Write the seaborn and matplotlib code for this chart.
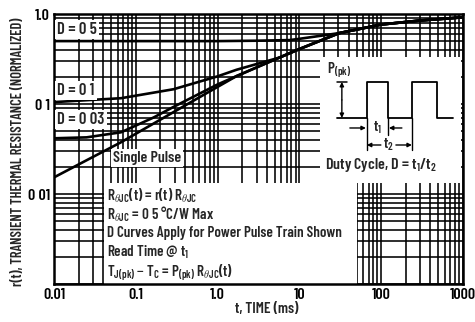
import numpy as np
import pandas as pd
import matplotlib
matplotlib.use("Agg")
import matplotlib.pyplot as plt
from matplotlib.patches import Rectangle
from matplotlib.ticker import LogLocator, FixedLocator, FixedFormatter, NullFormatter
import seaborn as sns

# Normalized transient thermal resistance r(t) versus pulse width t (ms)
t_d05 = [0.01, 0.1, 1.0, 3.0, 7.6, 10, 20, 30.8, 100, 300, 1000]
r_d05 = [0.50, 0.50, 0.50, 0.505, 0.513, 0.53, 0.58, 0.614, 0.764, 0.847, 0.919]

t_d01 = [0.01, 0.066, 0.29, 1.0, 1.7, 5.7, 10, 30.8, 100, 300, 1000]
r_d01 = [0.105, 0.116, 0.146, 0.203, 0.24, 0.328, 0.408, 0.614, 0.764, 0.847, 0.919]

t_d003 = [0.01, 0.025, 0.066, 0.166, 0.29, 1.0, 1.7, 5.7, 10, 30.8, 100, 300, 1000]
r_d003 = [0.0416, 0.0426, 0.0485, 0.071, 0.093, 0.165, 0.204, 0.328, 0.408, 0.614, 0.764, 0.847, 0.919]

t_single = [0.01, 0.025, 0.066, 0.26, 1.0, 1.7, 5.7, 10, 30.8, 100, 300, 1000]
r_single = [0.0153, 0.0237, 0.0376, 0.0769, 0.155, 0.204, 0.328, 0.408, 0.614, 0.764, 0.847, 0.919]

x_ticks = [0.01, 0.1, 1.0, 10, 100, 1000]
x_tick_labels = ["0.01", "0.1", "1.0", "10", "100", "1000"]
y_ticks = [0.01, 0.1, 1.0]
y_tick_labels = ["0 01", "0 1", "1.0"]

curves = pd.concat([
    pd.DataFrame({"t": t_d05, "r": r_d05, "curve": "D = 0 5"}),
    pd.DataFrame({"t": t_d01, "r": r_d01, "curve": "D = 0 1"}),
    pd.DataFrame({"t": t_d003, "r": r_d003, "curve": "D = 0 03"}),
    pd.DataFrame({"t": t_single, "r": r_single, "curve": "Single Pulse"}),
], ignore_index=True)

sns.set_theme(style="white")
cond = ["Barlow Condensed", "Archivo Narrow", "DejaVu Sans"]
plt.rcParams["font.family"] = cond
plt.rcParams["font.weight"] = 600
plt.rcParams["mathtext.fontset"] = "custom"
plt.rcParams["mathtext.rm"] = "Barlow Condensed:weight=600"
plt.rcParams["mathtext.it"] = "Barlow Condensed:weight=600"
plt.rcParams["mathtext.bf"] = "Barlow Condensed:weight=700"

fig = plt.figure(figsize=(4.75, 3.22), dpi=100)
ax = fig.add_axes([0.1137, 0.118, 0.861, 0.8385])

sns.lineplot(data=curves, x="t", y="r", units="curve", estimator=None,
             color="black", lw=1.9, ax=ax, zorder=2)

ax.set_xscale("log")
ax.set_yscale("log")
ax.set_xlim(0.01, 1000)
ax.set_ylim(0.001, 1.0)

ax.xaxis.set_major_locator(FixedLocator(x_ticks))
ax.xaxis.set_major_formatter(FixedFormatter(x_tick_labels))
ax.yaxis.set_major_locator(FixedLocator(y_ticks + [0.001]))
ax.yaxis.set_major_formatter(FixedFormatter(y_tick_labels + [""]))
for axis in (ax.xaxis, ax.yaxis):
    axis.set_minor_locator(LogLocator(base=10, subs=np.arange(2, 10), numticks=30))
    axis.set_minor_formatter(NullFormatter())

ax.set_axisbelow(True)
ax.grid(which="both", color="black", lw=1.15)
ax.tick_params(which="both", length=0, labelsize=11.5, colors="black")
ax.tick_params(axis="x", pad=3)
ax.tick_params(axis="y", pad=3)
for lab in ax.get_xticklabels() + ax.get_yticklabels():
    lab.set_fontweight(600)
for sp in ax.spines.values():
    sp.set_color("black")
    sp.set_linewidth(1.8)
ax.set_xlabel("")
ax.set_ylabel("")

# white panels for notes and the pulse-train sketch
ax.add_patch(Rectangle((0.122, 0.0), 0.619, 0.374, transform=ax.transAxes,
                       facecolor="white", edgecolor="none", zorder=1))
ax.add_patch(Rectangle((0.650, 0.374), 0.345, 0.467, transform=ax.transAxes,
                       facecolor="white", edgecolor="none", zorder=1))

box = dict(facecolor="white", edgecolor="none", pad=1.5)
ax.text(0.008, 0.944, "D = 0 5", transform=ax.transAxes, fontsize=12,
        ha="left", va="center", bbox=box, zorder=3)
ax.text(0.008, 0.715, "D = 0 1", transform=ax.transAxes, fontsize=12,
        ha="left", va="center", bbox=box, zorder=3)
ax.text(0.008, 0.611, "D = 0 03", transform=ax.transAxes, fontsize=12,
        ha="left", va="center", bbox=box, zorder=3)
ax.text(0.144, 0.467, "Single Pulse", transform=ax.transAxes, fontsize=11.5,
        ha="left", va="center", bbox=box, zorder=3)

notes = [
    (0.310, r"R$_{\theta JC}$(t) = r(t) R$_{\theta JC}$"),
    (0.240, r"R$_{\theta JC}$ = 0 5 °C/W Max"),
    (0.174, "D Curves Apply for Power Pulse Train Shown"),
    (0.102, r"Read Time @ t$_1$"),
    (0.026, r"T$_{J(pk)}$ $-$ T$_C$ = P$_{(pk)}$ R$_{\theta JC}$(t)"),
]
for yy, s in notes:
    ax.text(0.130, yy, s, transform=ax.transAxes, fontsize=10.8,
            ha="left", va="baseline", zorder=3)

# pulse-train sketch
ins = ax.inset_axes([0.650, 0.374, 0.345, 0.467])
ins.set_xlim(0, 141)
ins.set_ylim(0, 126)
ins.axis("off")
wave_u = [17, 47, 47, 68, 68, 92, 92, 117, 117, 133]
wave_v = [65, 65, 101, 101, 65, 65, 101, 101, 65, 65]
ins.plot(wave_u, wave_v, color="black", lw=1.3)
ins.plot([17, 27], [101, 101], color="black", lw=1.1)
ap = dict(arrowstyle="-|>", color="black", lw=1.0, mutation_scale=6,
          shrinkA=0, shrinkB=0)
ins.annotate("", xy=(22, 101), xytext=(22, 83), arrowprops=ap)
ins.annotate("", xy=(22, 65), xytext=(22, 83), arrowprops=ap)
ins.plot([47, 47], [65, 33], color="black", lw=1.0)
ins.plot([68, 68], [65, 48], color="black", lw=1.0)
ins.plot([92, 92], [65, 33], color="black", lw=1.0)
ins.annotate("", xy=(46, 55), xytext=(30, 55), arrowprops=ap)
ins.annotate("", xy=(69, 55), xytext=(82, 55), arrowprops=ap)
ins.annotate("", xy=(47, 38), xytext=(61, 38), arrowprops=ap)
ins.annotate("", xy=(92, 38), xytext=(76, 38), arrowprops=ap)
ins.text(58, 55, r"t$_1$", fontsize=11, ha="center", va="center")
ins.text(68.5, 38, r"t$_2$", fontsize=11, ha="center", va="center")
ins.text(7, 113, r"P$_{(pk)}$", fontsize=11, ha="left", va="center")
ins.text(5, 18, r"Duty Cycle, D = t$_1$/t$_2$", fontsize=11.5,
         ha="left", va="center")

fig.text(18.5 / 475, 1 - 152 / 322, "r(t), TRANSIENT THERMAL RESISTANCE (NORMALIZED)",
         rotation=90, ha="center", va="center", fontsize=10.5, fontweight=600)
fig.text(267 / 475, 1 - 309 / 322, "t, TIME (ms)", ha="center", va="center",
         fontsize=11, fontweight=600)

fig.savefig("out.png", dpi=100)
